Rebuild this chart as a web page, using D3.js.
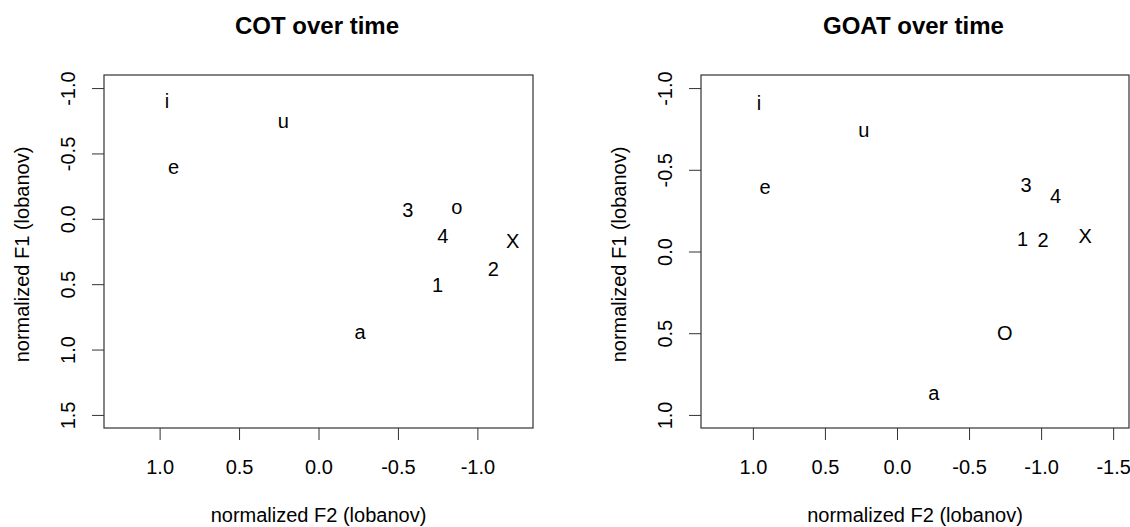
<!DOCTYPE html>
<html>
<head>
<meta charset="utf-8">
<script src="https://cdn.jsdelivr.net/npm/d3@7"></script>
<style>
  html, body { margin: 0; padding: 0; background: #fff; }
  svg { display: block; font-family: "Liberation Sans", Arial, sans-serif; }
</style>
</head>
<body>
<svg id="chart" width="1130" height="527"></svg>
<script>
// ---- data ----
const cotLabels = ["i", "u", "e", "3", "o", "4", "X", "2", "1", "a"];
const cotF2 = [0.953, 0.221, 0.912, -0.562, -0.870, -0.782, -1.222, -1.100, -0.750, -0.262];
const cotF1 = [-0.90, -0.753, -0.398, -0.071, -0.089, 0.133, 0.171, 0.383, 0.503, 0.865];

const goatLabels = ["i", "u", "e", "3", "4", "1", "2", "X", "O", "a"];
const goatF2 = [0.958, 0.230, 0.915, -0.895, -1.100, -0.872, -1.014, -1.305, -0.748, -0.256];
const goatF1 = [-0.907, -0.743, -0.396, -0.410, -0.339, -0.075, -0.069, -0.094, 0.499, 0.866];

const cotXTicks = [1.0, 0.5, 0.0, -0.5, -1.0];
const cotXTickLabels = ["1.0", "0.5", "0.0", "-0.5", "-1.0"];
const cotYTicks = [-1.0, -0.5, 0.0, 0.5, 1.0, 1.5];
const cotYTickLabels = ["-1.0", "-0.5", "0.0", "0.5", "1.0", "1.5"];

const goatXTicks = [1.0, 0.5, 0.0, -0.5, -1.0, -1.5];
const goatXTickLabels = ["1.0", "0.5", "0.0", "-0.5", "-1.0", "-1.5"];
const goatYTicks = [-1.0, -0.5, 0.0, 0.5, 1.0];
const goatYTickLabels = ["-1.0", "-0.5", "0.0", "0.5", "1.0"];

const cotXLim = [1.25, -1.25], cotYLim = [-1.0, 1.5];
const goatXLim = [1.25, -1.5], goatYLim = [-1.0, 1.0];

const titles = ["COT over time", "GOAT over time"];
const xTitle = "normalized F2 (lobanov)";
const yTitle = "normalized F1 (lobanov)";

// ---- drawing ----
const svg = d3.select("#chart");
const FS = 20;

function pad(lim) {
  const d = (lim[1] - lim[0]) * 0.04;
  return [lim[0] - d, lim[1] + d];
}

function panel(opts) {
  const { left, right, top, bottom } = opts;
  const x = d3.scaleLinear().domain(pad(opts.xlim)).range([left, right]);
  const y = d3.scaleLinear().domain(pad(opts.ylim)).range([top, bottom]);
  const g = svg.append("g");

  // title
  g.append("text")
    .attr("x", (left + right) / 2 - 1.5)
    .attr("y", 34)
    .attr("text-anchor", "middle")
    .attr("font-size", 24)
    .attr("font-weight", "bold")
    .attr("fill", "#000")
    .text(opts.title);

  // x axis
  const xa = g.append("g")
    .attr("transform", `translate(0,${bottom})`)
    .call(d3.axisBottom(x).tickValues(opts.xTicks).tickSize(12)
      .tickFormat((d, i) => opts.xTickLabels[i]));
  xa.select(".domain").remove();
  xa.selectAll(".tick line").attr("stroke", "#333").attr("stroke-width", 1);
  xa.selectAll(".tick text")
    .attr("y", 46).attr("dy", 0)
    .attr("font-size", FS).attr("font-family", "Liberation Sans, Arial, sans-serif")
    .attr("fill", "#000");

  // y axis
  const ya = g.append("g")
    .attr("transform", `translate(${left},0)`)
    .call(d3.axisLeft(y).tickValues(opts.yTicks).tickSize(12)
      .tickFormat((d, i) => opts.yTickLabels[i]));
  ya.select(".domain").remove();
  ya.selectAll(".tick line").attr("stroke", "#333").attr("stroke-width", 1);
  ya.selectAll(".tick text")
    .attr("x", 0).attr("y", -29).attr("dy", 0)
    .attr("transform", "rotate(-90)")
    .attr("text-anchor", "middle")
    .attr("font-size", FS).attr("font-family", "Liberation Sans, Arial, sans-serif")
    .attr("fill", "#000");

  // box
  g.append("rect")
    .attr("x", left).attr("y", top)
    .attr("width", right - left).attr("height", bottom - top)
    .attr("fill", "none").attr("stroke", "#333").attr("stroke-width", 1.2);

  // axis titles
  g.append("text")
    .attr("x", (left + right) / 2).attr("y", 522)
    .attr("text-anchor", "middle").attr("font-size", FS).attr("fill", "#000")
    .text(xTitle);
  g.append("text")
    .attr("transform", `translate(${left - 75},${(top + bottom) / 2 + 3}) rotate(-90)`)
    .attr("text-anchor", "middle").attr("font-size", FS).attr("fill", "#000")
    .text(yTitle);

  // point labels
  g.selectAll("text.pt")
    .data(opts.labels.map((l, i) => ({ l, f2: opts.f2[i], f1: opts.f1[i] })))
    .enter().append("text")
    .attr("class", "pt")
    .attr("x", d => x(d.f2))
    .attr("y", d => y(d.f1) + FS * 0.358)
    .attr("text-anchor", "middle")
    .attr("font-size", FS)
    .attr("fill", "#000")
    .text(d => d.l);
}

panel({
  left: 104, right: 533, top: 75, bottom: 428,
  xlim: cotXLim, ylim: cotYLim,
  xTicks: cotXTicks, xTickLabels: cotXTickLabels,
  yTicks: cotYTicks, yTickLabels: cotYTickLabels,
  labels: cotLabels, f2: cotF2, f1: cotF1, title: titles[0]
});
panel({
  left: 701, right: 1129, top: 75, bottom: 428,
  xlim: goatXLim, ylim: goatYLim,
  xTicks: goatXTicks, xTickLabels: goatXTickLabels,
  yTicks: goatYTicks, yTickLabels: goatYTickLabels,
  labels: goatLabels, f2: goatF2, f1: goatF1, title: titles[1]
});
</script>
</body>
</html>
